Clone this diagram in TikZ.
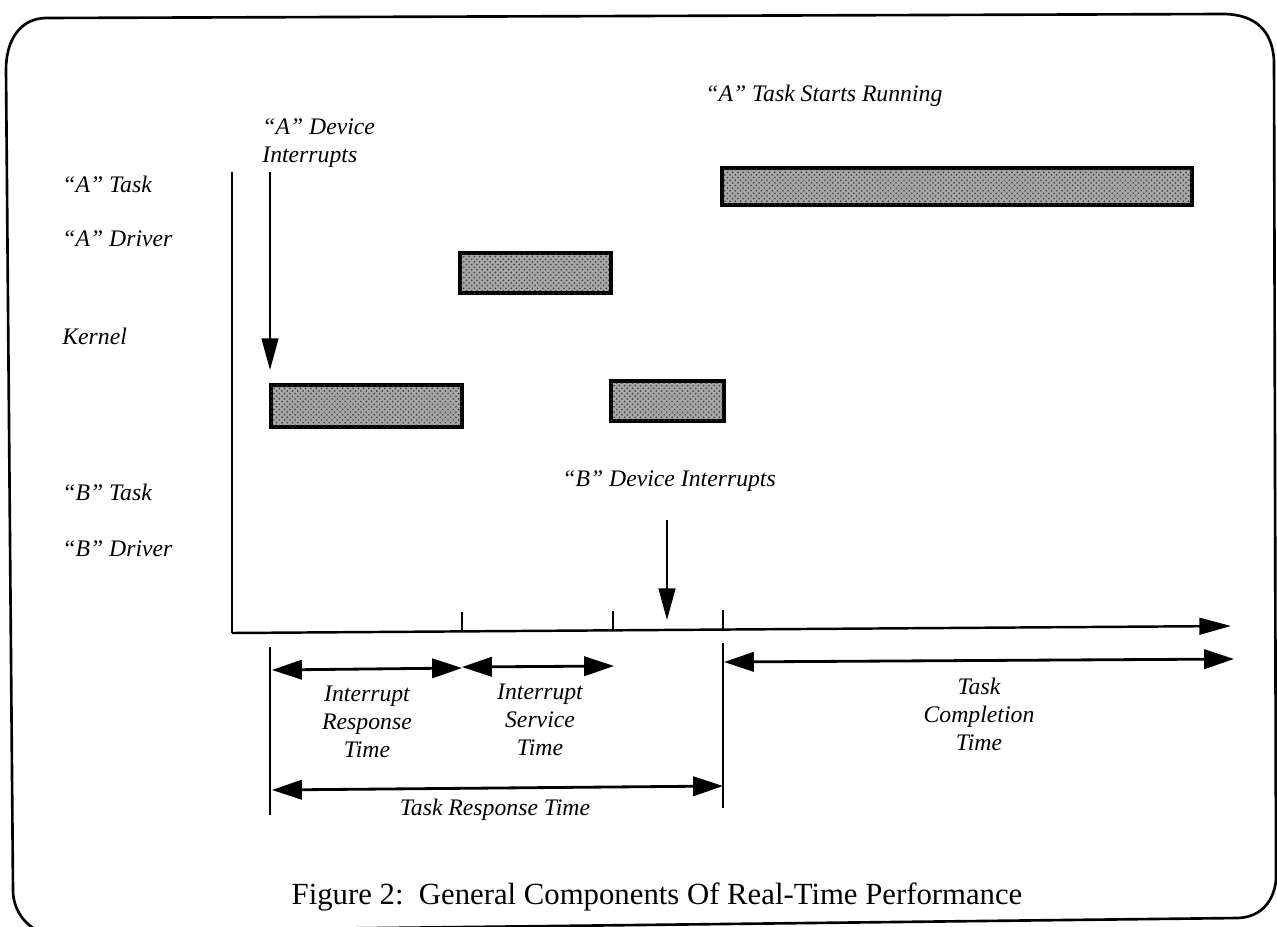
\documentclass[tikz,border=0pt]{standalone}
\usepackage{fontspec}
\setmainfont{Liberation Serif}
\usetikzlibrary{arrows.meta,patterns}
\begin{document}
\begin{tikzpicture}[x=0.02cm,y=-0.02cm,
  lbl/.style={font=\fontsize{13.5}{16}\selectfont\itshape, inner sep=0pt},
  clbl/.style={lbl, align=center},
  bar/.style={draw, line width=1.8pt, fill=black!35, postaction={pattern=crosshatch dots, pattern color=black!80}},
  axisline/.style={line width=1.4pt},
  guide/.style={line width=1.1pt},
  tick/.style={line width=1.6pt},
  intarrow/.style={line width=1.3pt, -{Triangle[length=18pt,width=9.5pt]}},
  axarrow/.style={line width=1.4pt, -{Triangle[length=18pt,width=9.5pt]}},
  span/.style={line width=1.6pt, {Triangle[length=17pt,width=11pt]}-{Triangle[length=17pt,width=11pt]}},
  frame/.style={line width=1.5pt}]
\useasboundingbox (0,0) rectangle (1277,926);
% frame
\draw[frame] (13,890) -- (6,70) .. controls (6,40) and (20,19) .. (45,18) -- (1225,14)
  .. controls (1255,15) and (1272,30) .. (1274,60) -- (1276,880)
  .. controls (1274,900) and (1262,917) .. (1238,918) -- (40,932)
  .. controls (25,925) and (13,910) .. (13,890);

% row labels
\node[lbl, anchor=west] (lat) at (62,184) {“A” Task};
\node[lbl, anchor=west] (lad) at (62,239) {“A” Driver};
\node[lbl, anchor=west] (lk)  at (62,336) {Kernel};
\node[lbl, anchor=west] (lbt) at (62,492) {“B” Task};
\node[lbl, anchor=west] (lbd) at (62,549) {“B” Driver};

% event labels
\node[lbl, anchor=west, align=left] (adev) at (262,143) {“A” Device\\Interrupts};
\node[lbl, anchor=west] (arun) at (705,96) {“A” Task Starts Running};
\node[lbl, anchor=west] (bdev) at (562,481) {“B” Device Interrupts};

% axes
\coordinate (o) at (232,633);
\coordinate (ytop) at (232,172);
\coordinate (xend) at (1231,626);
\draw[axisline] (ytop) -- (o);
\draw[axarrow] (o) -- (xend);

% ticks
\coordinate (t1b) at (462,632); \coordinate (t1t) at (462,612);
\coordinate (t2b) at (613,631); \coordinate (t2t) at (613,611);
\coordinate (t3b) at (723,630); \coordinate (t3t) at (723,610);
\draw[tick] (t1b) -- (t1t);
\draw[tick] (t2b) -- (t2t);
\draw[tick] (t3b) -- (t3t);

% bars
\draw[bar] (722,168) rectangle (1192,205);
\draw[bar] (460,253) rectangle (611,293);
\draw[bar] (271,385) rectangle (462,427);
\draw[bar] (611,381) rectangle (724,421);

% interrupt arrows
\coordinate (aS) at (270,172);
\coordinate (aE) at (270,370);
\draw[intarrow] (aS) -- (aE);
\coordinate (bS) at (667,520);
\coordinate (bE) at (667,620);
\draw[intarrow] (bS) -- (bE);

% guide lines
\coordinate (g1t) at (270,647); \coordinate (g1b) at (270,815);
\coordinate (g2t) at (723,643); \coordinate (g2b) at (723,808);
\draw[guide] (g1t) -- (g1b);
\draw[guide] (g2t) -- (g2b);

% spans
\coordinate (r1) at (272,670); \coordinate (r2) at (462,668);
\coordinate (s1) at (462,667); \coordinate (s2) at (614,666);
\coordinate (c1) at (724,662); \coordinate (c2) at (1234,659);
\coordinate (tr1) at (272,790); \coordinate (tr2) at (723,786);
\draw[span] (r1) -- (r2);
\draw[span] (s1) -- (s2);
\draw[span] (c1) -- (c2);
\draw[span] (tr1) -- (tr2);

\node[clbl] (irt) at (367,722) {Interrupt\\Response\\Time};
\node[clbl] (ist) at (540,720) {Interrupt\\Service\\Time};
\node[clbl] (tct) at (979,714) {Task\\Completion\\Time};
\node[lbl] (trt) at (495,810) {Task Response Time};

% caption
\node[font=\fontsize{17.5}{20}\selectfont, inner sep=0pt] (cap) at (657,897)
  {Figure 2:\ \ General Components Of Real-Time Performance};
\end{tikzpicture}
\end{document}
